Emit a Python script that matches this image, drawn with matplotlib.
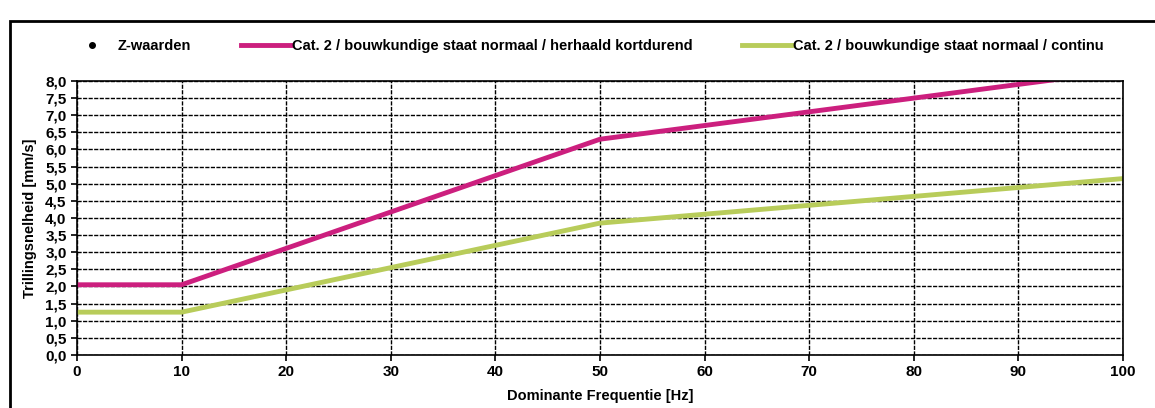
import matplotlib
matplotlib.use("Agg")
import matplotlib.pyplot as plt
from matplotlib.patches import Rectangle

# data
freq_kort = [0, 10, 50, 100]
v_kort = [2.05, 2.05, 6.3, 8.3]
freq_cont = [0, 10, 50, 100]
v_cont = [1.25, 1.25, 3.85, 5.15]
xticks = [0, 10, 20, 30, 40, 50, 60, 70, 80, 90, 100]
yticks = [0.0, 0.5, 1.0, 1.5, 2.0, 2.5, 3.0, 3.5, 4.0, 4.5, 5.0, 5.5, 6.0, 6.5, 7.0, 7.5, 8.0]

plt.rcParams["font.family"] = ["Liberation Sans", "DejaVu Sans"]
plt.rcParams["font.weight"] = "bold"
plt.rcParams["axes.labelweight"] = "bold"

fig = plt.figure(figsize=(11.55, 4.08), dpi=100)
ax = fig.add_axes([0.0667, 0.130, 0.9056, 0.6715])

# outer frame of the scanned chart
fig.patches.append(Rectangle((0.009, -0.05), 1.5, 0.999, transform=fig.transFigure,
                             fill=False, edgecolor="black", linewidth=2))

ax.plot([], [], "o", color="black", markersize=4, label="Z-waarden")
ax.plot(freq_kort, v_kort, color="#cc1f7e", linewidth=3.5,
        label="Cat. 2 / bouwkundige staat normaal / herhaald kortdurend")
ax.plot(freq_cont, v_cont, color="#b8cc5a", linewidth=3.5,
        label="Cat. 2 / bouwkundige staat normaal / continu")

ax.set_xlim(0, 100)
ax.set_ylim(0, 8)
ax.set_xticks(xticks)
ax.set_yticks(yticks)
ax.set_yticklabels([f"{v:.1f}".replace(".", ",") for v in yticks])
ax.tick_params(labelsize=11, direction="out", length=4, width=1.2)
ax.grid(True, color="black", linestyle=(0, (3, 1)), linewidth=1.0)
for s in ax.spines.values():
    s.set_linewidth(1.2)

ax.set_xlabel("Dominante Frequentie [Hz]", fontsize=10.5, labelpad=7)
ax.set_ylabel("Trillingsnelheid [mm/s]", fontsize=10.5, labelpad=6)

handles, labels = ax.get_legend_handles_labels()
fig.legend(handles, labels, loc="center left", bbox_to_anchor=(0.0528, 0.887), ncol=3,
           frameon=False, fontsize=10.5, handlelength=3.43, handletextpad=0.05,
           columnspacing=3.43, borderaxespad=0)

fig.savefig("out.png", dpi=100)
